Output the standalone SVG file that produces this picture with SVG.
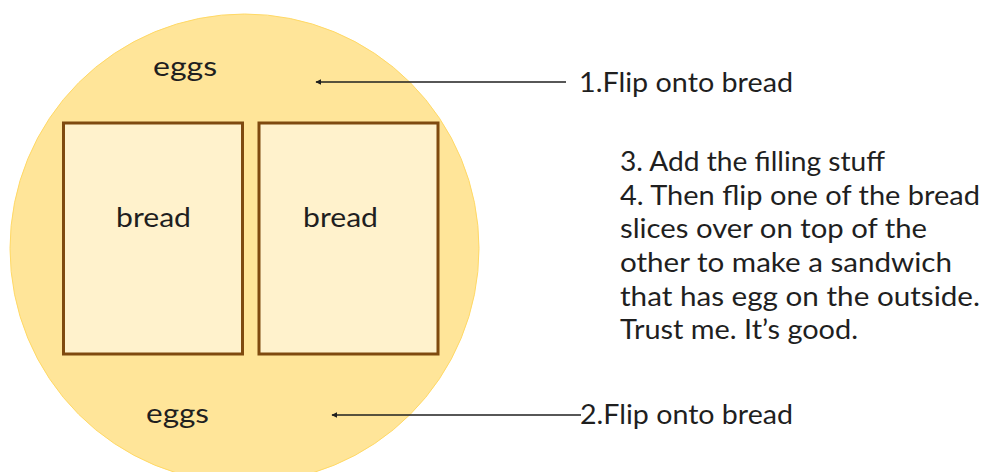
<svg xmlns="http://www.w3.org/2000/svg" width="983" height="472" viewBox="0 0 983 472">
<style>
.t{font-family:"Lato","Open Sans","Liberation Sans",sans-serif;font-size:26px;fill:#1f1f1f}
.c{text-anchor:middle}
.slice{fill:#fff2cc;stroke:#7f4a0f;stroke-width:3}
.arr{stroke:#1f1f1f;stroke-width:1.5;fill:none;marker-end:url(#ah)}
</style>
<defs>
<marker id="ah" viewBox="0 0 10 10" refX="9" refY="5" markerWidth="6" markerHeight="6" orient="auto" markerUnits="userSpaceOnUse"><path d="M0,0 L10,5 L0,10 z" fill="#1f1f1f"/></marker>
</defs>
<rect width="983" height="472" fill="#ffffff"/>
<g id="egg">
<circle cx="244.5" cy="248.5" r="234.5" fill="#ffe599" stroke="#ffd966" stroke-width="1"/>
<text class="t" x="153" y="76" textLength="64" lengthAdjust="spacingAndGlyphs">eggs</text>
<text class="t" x="146" y="423" textLength="63" lengthAdjust="spacingAndGlyphs">eggs</text>
</g>
<g id="bread-left">
<rect class="slice" x="63.5" y="123" width="179" height="231"/>
<text class="t" x="116" y="227" textLength="75" lengthAdjust="spacingAndGlyphs">bread</text>
</g>
<g id="bread-right">
<rect class="slice" x="259" y="123" width="179" height="231"/>
<text class="t" x="303" y="227" textLength="75" lengthAdjust="spacingAndGlyphs">bread</text>
</g>
<g id="connectors">
<line class="arr" x1="566" y1="82" x2="316" y2="82"/>
<line class="arr" x1="581" y1="415" x2="332" y2="415"/>
</g>
<g id="label1"><text class="t" x="579" y="92" textLength="214" lengthAdjust="spacingAndGlyphs">1.Flip onto bread</text></g>
<g id="label2"><text class="t" x="580" y="424" textLength="213" lengthAdjust="spacingAndGlyphs">2.Flip onto bread</text></g>
<g id="notes">
<text class="t" x="620" y="171" textLength="265" lengthAdjust="spacingAndGlyphs">3. Add the filling stuff</text>
<text class="t" x="620" y="205" textLength="360" lengthAdjust="spacingAndGlyphs">4. Then flip one of the bread</text>
<text class="t" x="620" y="238" textLength="307" lengthAdjust="spacingAndGlyphs">slices over on top of the</text>
<text class="t" x="620" y="272" textLength="332" lengthAdjust="spacingAndGlyphs">other to make a sandwich</text>
<text class="t" x="620" y="306" textLength="360" lengthAdjust="spacingAndGlyphs">that has egg on the outside.</text>
<text class="t" x="620" y="339" textLength="238" lengthAdjust="spacingAndGlyphs">Trust me. It’s good.</text>
</g>
</svg>
